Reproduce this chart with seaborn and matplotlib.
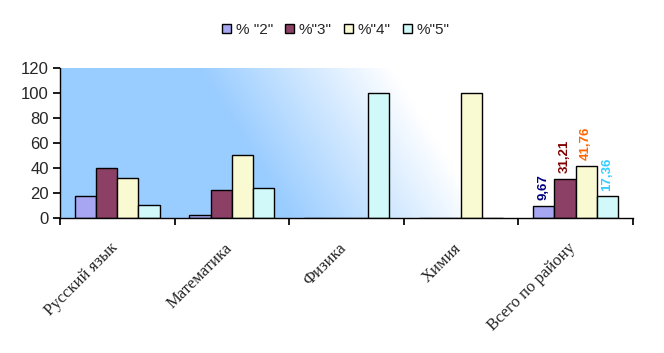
import numpy as np
import pandas as pd
import matplotlib
matplotlib.use("Agg")
import matplotlib.pyplot as plt
import matplotlib.transforms as mtransforms
import seaborn as sns

categories = ["Русский язык", "Математика", "Физика", "Химия", "Всего по району"]
series = ['% "2"', '%"3"', '%"4"', '%"5"']
vals_2 = [18, 2.2, 0, 0, 9.67]
vals_3 = [40, 22.5, 0, 0, 31.21]
vals_4 = [32, 50.3, 0, 100, 41.76]
vals_5 = [10.7, 24.2, 100, 0, 17.36]
colors = ["#9999FF", "#993366", "#FFFFCC", "#CCFFFF"]
label_colors = ["#000080", "#800000", "#FF6600", "#33CCFF"]

rows = []
for s, v in zip(series, [vals_2, vals_3, vals_4, vals_5]):
    for c, x in zip(categories, v):
        rows.append({"cat": c, "series": s, "value": x})
df = pd.DataFrame(rows)

sns.set_theme(style="white")
plt.rcParams["font.family"] = ["Liberation Sans", "DejaVu Sans"]

fig = plt.figure(figsize=(6.64, 3.53), dpi=100)
ax = fig.add_axes([0.0904, 0.3824, 0.8626, 0.4246])

# gradient background
gx, gy = np.meshgrid(np.linspace(0, 1, 300), np.linspace(0, 1, 100))
t = np.clip((gx + 0.16 * gy - 0.40) / 0.34, 0, 1)
c0 = np.array([153, 204, 255]) / 255.0
c1 = np.array([1.0, 1.0, 1.0])
img = c0[None, None, :] * (1 - t[..., None]) + c1[None, None, :] * t[..., None]
ax.imshow(img, extent=[0, 1, 0, 1], transform=ax.transAxes, origin="lower",
          aspect="auto", zorder=0)

sns.barplot(data=df, x="cat", y="value", hue="series", palette=colors,
            edgecolor="black", linewidth=1.0, width=0.74, ax=ax,
            legend=True, zorder=2)

ax.set_xlim(-0.5, len(categories) - 0.5)
ax.set_ylim(0, 120)
ax.set_yticks(range(0, 121, 20))
ax.tick_params(axis="y", labelsize=12, length=5, left=True, color="black",
               pad=3)
ax.set_xlabel("")
ax.set_ylabel("")
for sp in ["top", "right"]:
    ax.spines[sp].set_visible(False)
for sp in ["left", "bottom"]:
    ax.spines[sp].set_color("black")
    ax.spines[sp].set_linewidth(1.0)

# ticks at boundaries, labels at centres
ax.set_xticks(np.arange(-0.5, len(categories), 1.0))
ax.set_xticklabels([])
ax.tick_params(axis="x", which="major", length=5, bottom=True, color="black")
ax.set_xticks(np.arange(len(categories)), minor=True)
ax.set_xticklabels(categories, minor=True, rotation=45, ha="right",
                   va="top", rotation_mode="anchor",
                   family=["Liberation Serif", "DejaVu Serif"], fontsize=12)
ax.tick_params(axis="x", which="minor", length=0, pad=0)
for lab in ax.get_xticklabels(minor=True):
    off = mtransforms.ScaledTranslation(-8 / 100, -22 / 100, fig.dpi_scale_trans)
    lab.set_transform(lab.get_transform() + off)

# data labels on last group
for cont, lc in zip(ax.containers, label_colors):
    labs = [""] * (len(categories) - 1) + [
        ("%.2f" % cont.datavalues[-1]).replace(".", ",")]
    ax.bar_label(cont, labels=labs, rotation=90, padding=4, color=lc,
                 fontsize=9.5, fontweight="bold")

leg = ax.legend(loc="center", bbox_to_anchor=(0.506, 0.915),
                bbox_transform=fig.transFigure, ncol=4, frameon=False,
                fontsize=11, handlelength=0.6, handleheight=0.6,
                handletextpad=0.3, columnspacing=0.8)
for h in leg.legend_handles:
    h.set_edgecolor("black")
    h.set_linewidth(1.0)

fig.savefig("out.png", dpi=100)
